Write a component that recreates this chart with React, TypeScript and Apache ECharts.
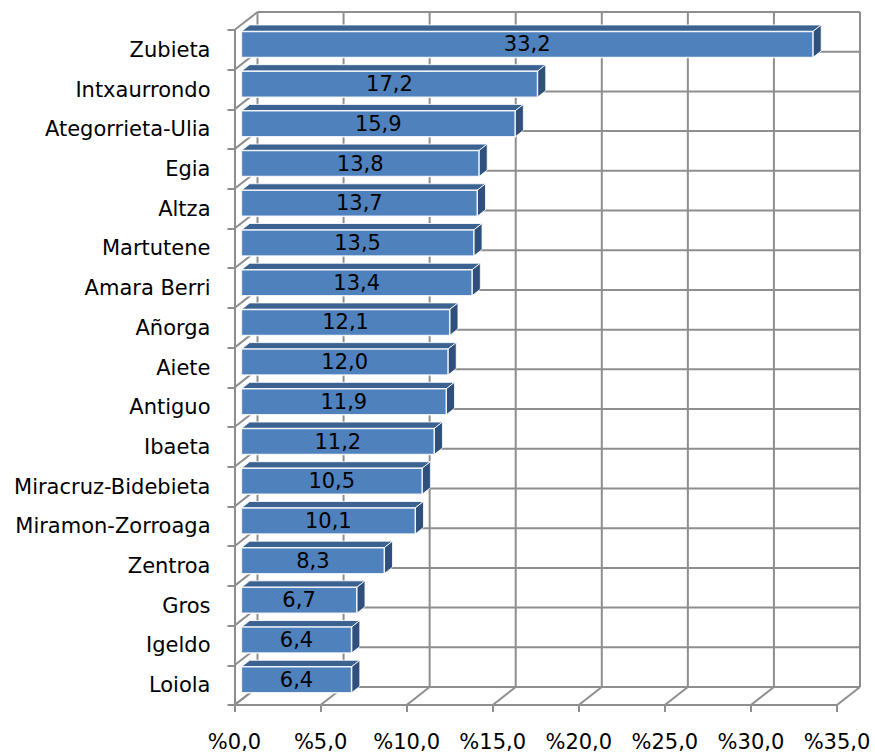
import React, { useEffect, useRef } from 'react';
import * as echarts from 'echarts';

const categories = [
  'Zubieta', 'Intxaurrondo', 'Ategorrieta-Ulia', 'Egia', 'Altza', 'Martutene',
  'Amara Berri', 'Añorga', 'Aiete', 'Antiguo', 'Ibaeta', 'Miracruz-Bidebieta',
  'Miramon-Zorroaga', 'Zentroa', 'Gros', 'Igeldo', 'Loiola',
];
const values = [33.2, 17.2, 15.9, 13.8, 13.7, 13.5, 13.4, 12.1, 12.0, 11.9, 11.2, 10.5, 10.1, 8.3, 6.7, 6.4, 6.4];
const valueTicks = [0, 5, 10, 15, 20, 25, 30, 35];
const X_MIN = 0;
const X_MAX = 35;
const X_INTERVAL = 5;

const DEPTH = [23, -18];
const GRID_COLOR = '#8e8e8e';
const FONT = 'DejaVu Sans';
const FONT_SIZE = 21;

const fmt = (v: number) => v.toFixed(1).replace('.', ',');

export default function App() {
  const ref = useRef<HTMLDivElement>(null);
  useEffect(() => {
    if (!ref.current) return;
    const chart = echarts.init(ref.current, undefined, { renderer: 'svg' });
    const n = categories.length;

    const wallsRender = (params: any, api: any) => {
      const bh = api.size([0, 1])[1];
      const c0 = api.coord([X_MIN, 0]);
      const topY = c0[1] - bh / 2;
      const bottomY = topY + n * bh;
      const children: any[] = [];
      const line = (x1: number, y1: number, x2: number, y2: number) => ({
        type: 'line',
        shape: { x1, y1, x2, y2 },
        style: { stroke: GRID_COLOR, lineWidth: 2 },
      });
      // back wall vertical lines + floor diagonals
      valueTicks.forEach((v) => {
        const x = api.coord([v, 0])[0];
        children.push(line(x + DEPTH[0], topY + DEPTH[1], x + DEPTH[0], bottomY + DEPTH[1]));
        children.push(line(x, bottomY, x + DEPTH[0], bottomY + DEPTH[1]));
      });
      const xl = api.coord([X_MIN, 0])[0];
      const xr = api.coord([X_MAX, 0])[0];
      // back wall horizontal lines + left wall diagonals
      for (let i = 0; i <= n; i++) {
        const y = topY + i * bh;
        children.push(line(xl + DEPTH[0], y + DEPTH[1], xr + DEPTH[0], y + DEPTH[1]));
        children.push(line(xl, y, xl + DEPTH[0], y + DEPTH[1]));
      }
      return { type: 'group', children };
    };

    const barsRender = (params: any, api: any) => {
      const v = api.value(0);
      const i = api.value(1);
      const p0 = api.coord([0, i]);
      const p1 = api.coord([v, i]);
      const bh = api.size([0, 1])[1];
      const faceH = bh * 0.655;
      const ox = DEPTH[0] * 0.3;
      const oy = DEPTH[1] * 0.3;
      const dx = DEPTH[0] * 0.36;
      const dy = DEPTH[1] * 0.36;
      const x0 = p0[0] + ox;
      const x1 = p1[0] + ox;
      const yc = p0[1] + oy;
      const yt = yc - faceH / 2;
      const yb = yc + faceH / 2;
      const edge = 'rgba(255,255,255,0.85)';
      return {
        type: 'group',
        children: [
          {
            type: 'polygon',
            shape: { points: [[x0, yt], [x1, yt], [x1 + dx, yt + dy], [x0 + dx, yt + dy]] },
            style: { fill: '#3b6290', stroke: edge, lineWidth: 1 },
          },
          {
            type: 'polygon',
            shape: { points: [[x1, yt], [x1 + dx, yt + dy], [x1 + dx, yb + dy], [x1, yb]] },
            style: { fill: '#2f507d', stroke: edge, lineWidth: 1 },
          },
          {
            type: 'rect',
            shape: { x: x0, y: yt, width: x1 - x0, height: faceH },
            style: { fill: '#4f81bd', stroke: edge, lineWidth: 1.5 },
          },
          {
            type: 'text',
            x: (x0 + x1) / 2,
            y: yc,
            style: {
              text: fmt(v),
              align: 'center',
              verticalAlign: 'middle',
              fontFamily: FONT,
              fontSize: FONT_SIZE,
              fill: '#000',
            },
          },
        ],
      };
    };

    chart.setOption({
      animation: false,
      backgroundColor: '#ffffff',
      grid: { left: 234.5, right: 38, top: 30, bottom: 48, containLabel: false },
      xAxis: {
        type: 'value',
        min: X_MIN,
        max: X_MAX,
        interval: X_INTERVAL,
        axisLine: { show: true, lineStyle: { color: GRID_COLOR, width: 2 } },
        axisTick: { show: true, length: 7, lineStyle: { color: GRID_COLOR, width: 2 } },
        splitLine: { show: false },
        axisLabel: {
          formatter: (v: number) => '%' + fmt(v),
          fontFamily: FONT,
          fontSize: FONT_SIZE,
          color: '#000',
          margin: 26,
        },
      },
      yAxis: {
        type: 'category',
        data: categories,
        inverse: true,
        axisLine: { show: true, lineStyle: { color: GRID_COLOR, width: 2 } },
        axisTick: { show: true, length: 7, lineStyle: { color: GRID_COLOR, width: 2 } },
        splitLine: { show: false },
        axisLabel: {
          fontFamily: FONT,
          fontSize: FONT_SIZE,
          color: '#000',
          margin: 24,
        },
      },
      series: [
        {
          type: 'custom',
          name: 'walls',
          renderItem: wallsRender,
          data: [[0, 0]],
          clip: false,
          silent: true,
          z: 1,
        },
        {
          type: 'custom',
          name: 'values',
          renderItem: barsRender,
          data: values.map((v, i) => [v, i]),
          encode: { x: 0, y: 1 },
          clip: false,
          z: 3,
        },
      ],
    });
    return () => chart.dispose();
  }, []);
  return (
    <div
      ref={ref}
      style={{ position: 'absolute', left: 0, top: 0, width: 875, height: 753, background: '#fff' }}
    />
  );
}
